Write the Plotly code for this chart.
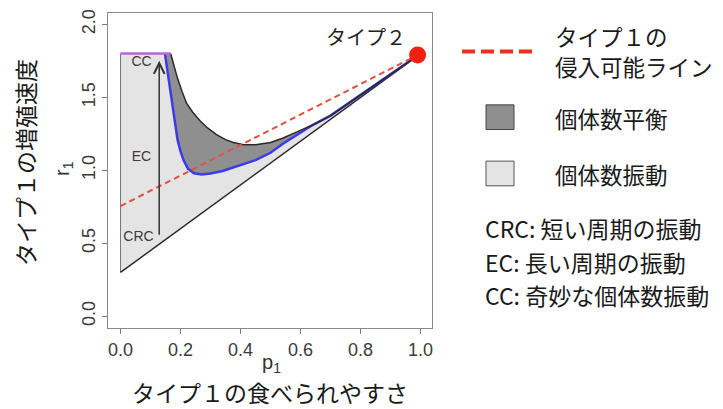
import plotly.graph_objects as go

# ---------------- data ----------------
lower_p = [0.0, 1.0]
lower_r = [0.3, 1.8]

invasion_p = [0.0, 1.0]
invasion_r = [0.755, 1.8]

cc_p = [0.0, 0.167]
cc_r = [1.8, 1.8]

blue_p = [0.148, 0.155, 0.162, 0.168, 0.175, 0.182, 0.19, 0.20, 0.21, 0.225, 0.245, 0.27,
          0.30, 0.34, 0.40, 0.45, 0.50, 0.54, 0.59, 0.64, 0.70, 0.80, 0.90, 1.0]
blue_r = [1.80, 1.70, 1.60, 1.50, 1.40, 1.30, 1.21, 1.13, 1.07, 1.01, 0.98, 0.972,
          0.978, 0.995, 1.035, 1.07, 1.12, 1.18, 1.245, 1.31, 1.375, 1.515, 1.655, 1.8]

upper_p = [0.167, 0.18, 0.19, 0.205, 0.22, 0.24, 0.265, 0.29, 0.32, 0.35, 0.376, 0.41,
           0.45, 0.50, 0.54, 0.59, 0.64, 0.70, 0.80, 0.90, 1.0]
upper_r = [1.80, 1.70, 1.63, 1.54, 1.46, 1.40, 1.34, 1.29, 1.245, 1.21, 1.19, 1.175,
           1.175, 1.19, 1.22, 1.265, 1.31, 1.375, 1.515, 1.655, 1.8]

type2_p = [0.99]
type2_r = [1.79]

arrow_p = [0.129, 0.129]
arrow_r = [0.548, 1.75]

region_labels = ["CC", "EC", "CRC"]
region_p = [0.07, 0.07, 0.06]
region_r = [1.738, 1.09, 0.542]

x_ticks = [0.0, 0.2, 0.4, 0.6, 0.8, 1.0]
y_ticks = [0.0, 0.5, 1.0, 1.5, 2.0]

legend_texts = ["タイプ１の", "侵入可能ライン", "個体数平衡", "個体数振動"]
notes = ["CRC: 短い周期の振動", "EC: 長い周期の振動", "CC: 奇妙な個体数振動"]

# ---------------- styles ----------------
W, H = 723, 409
L, R, T, B = 108, 432, 9, 328
JP = "Noto Sans CJK JP"
LAT = "Liberation Sans, Arial, sans-serif"
LIGHT = "#e4e4e4"
DARK = "#8f8f8f"


def px(x):
    return (x - L) / (R - L)


def py(y):
    return (B - y) / (B - T)


fig = go.Figure()

# light region (oscillation)
light_x = [lower_p[0], cc_p[0]] + blue_p
light_y = [lower_r[0], cc_r[0]] + blue_r
fig.add_trace(go.Scatter(x=light_x, y=light_y, fill="toself", fillcolor=LIGHT,
                         mode="lines", line=dict(width=0), hoverinfo="skip"))

# dark region (equilibrium)
dark_x = upper_p + blue_p[::-1] + [upper_p[0]]
dark_y = upper_r + blue_r[::-1] + [upper_r[0]]
fig.add_trace(go.Scatter(x=dark_x, y=dark_y, fill="toself", fillcolor=DARK,
                         mode="lines", line=dict(width=0), hoverinfo="skip"))

# left edge of light region
fig.add_trace(go.Scatter(x=[lower_p[0], cc_p[0]], y=[lower_r[0], cc_r[0]], mode="lines",
                         line=dict(color="#777777", width=1)))
# lower boundary
fig.add_trace(go.Scatter(x=lower_p, y=lower_r, mode="lines",
                         line=dict(color="#2a2a2a", width=1.5)))
# blue boundary
fig.add_trace(go.Scatter(x=blue_p, y=blue_r, mode="lines",
                         line=dict(color="#3b3bea", width=2.5)))
# upper black boundary
fig.add_trace(go.Scatter(x=upper_p, y=upper_r, mode="lines",
                         line=dict(color="#2a2a2a", width=1.5)))
# CC purple line
fig.add_trace(go.Scatter(x=cc_p, y=cc_r, mode="lines",
                         line=dict(color="#b866dc", width=2.5)))
# invasion line
fig.add_trace(go.Scatter(x=invasion_p, y=invasion_r, mode="lines",
                         line=dict(color="#e2503f", width=2, dash="6px,4px")))
# type 2 point
fig.add_trace(go.Scatter(x=type2_p, y=type2_r, mode="markers", cliponaxis=False,
                         marker=dict(color="#f2200f", size=17, line=dict(width=0))))
# region labels
fig.add_trace(go.Scatter(x=region_p, y=region_r, mode="text", text=region_labels,
                         textfont=dict(family=LAT, size=14, color="#3a3a3a")))

# arrow
fig.add_annotation(x=arrow_p[1], y=arrow_r[1], ax=arrow_p[0], ay=arrow_r[0],
                   xref="x", yref="y", axref="x", ayref="y", text="",
                   showarrow=True, arrowhead=5, arrowsize=1.4, arrowwidth=1.5,
                   arrowcolor="#333333")

# type 2 label
fig.add_annotation(x=0.818, y=1.916, xref="x", yref="y", text="タイプ２", showarrow=False,
                   xanchor="center", yanchor="middle",
                   font=dict(family=JP, size=20, color="#222222"))

# axis titles
fig.add_annotation(x=px(271), y=py(364), xref="paper", yref="paper", text="p<sub>1</sub>",
                   xanchor="center", yanchor="middle",
                   showarrow=False, font=dict(family=LAT, size=20, color="#333333"))
fig.add_annotation(x=px(270), y=py(393), xref="paper", yref="paper",
                   text="タイプ１の食べられやすさ", showarrow=False,
                   xanchor="center", yanchor="middle",
                   font=dict(family=JP, size=23, color="#1a1a1a"))
fig.add_annotation(x=px(63), y=py(167), xref="paper", yref="paper", text="r<sub>1</sub>",
                   xanchor="center", yanchor="middle",
                   textangle=-90, showarrow=False, font=dict(family=LAT, size=20, color="#333333"))
fig.add_annotation(x=px(25), y=py(160), xref="paper", yref="paper",
                   text="タイプ１の増殖速度", textangle=-90, showarrow=False,
                   xanchor="center", yanchor="middle",
                   font=dict(family=JP, size=23, color="#1a1a1a"))

# legend (manual)
fig.add_shape(type="line", xref="paper", yref="paper", x0=px(462), x1=px(534), y0=py(48), y1=py(48),
              line=dict(color="#f0301c", width=4, dash="13px,6px"))
fig.add_shape(type="rect", xref="paper", yref="paper", x0=px(486), x1=px(514), y0=py(127), y1=py(102),
              fillcolor=DARK, line=dict(color="#444444", width=1))
fig.add_shape(type="rect", xref="paper", yref="paper", x0=px(486), x1=px(514), y0=py(184), y1=py(159),
              fillcolor=LIGHT, line=dict(color="#555555", width=1))
leg_y = [32, 63, 115, 172]
for t, yy in zip(legend_texts, leg_y):
    fig.add_annotation(x=px(553), y=py(yy), xref="paper", yref="paper", text=t,
                       xanchor="left", yanchor="middle", showarrow=False,
                       font=dict(family=JP, size=22.5, color="#1a1a1a"))
note_y = [227, 261, 295]
for t, yy in zip(notes, note_y):
    fig.add_annotation(x=px(483), y=py(yy), xref="paper", yref="paper", text=t,
                       xanchor="left", yanchor="middle", showarrow=False,
                       font=dict(family=JP, size=23, color="#1a1a1a"))

axis_common = dict(showgrid=False, zeroline=False, showline=True, mirror=True,
                   linecolor="#8a8a8a", linewidth=1.2, ticks="outside", ticklen=5,
                   tickcolor="#777777", tickwidth=1, tickformat=".1f",
                   tickfont=dict(family=LAT, size=18, color="#3a3a3a"))

fig.update_xaxes(range=[-0.0417, 1.038], tickvals=x_ticks, **axis_common)
fig.update_yaxes(range=[-0.081, 2.078], tickvals=y_ticks, tickangle=-90, **axis_common)

fig.update_layout(width=W, height=H, showlegend=False,
                  margin=dict(l=L, r=W - R, t=T, b=H - B),
                  plot_bgcolor="white", paper_bgcolor="white")

fig.write_html("out.html")
